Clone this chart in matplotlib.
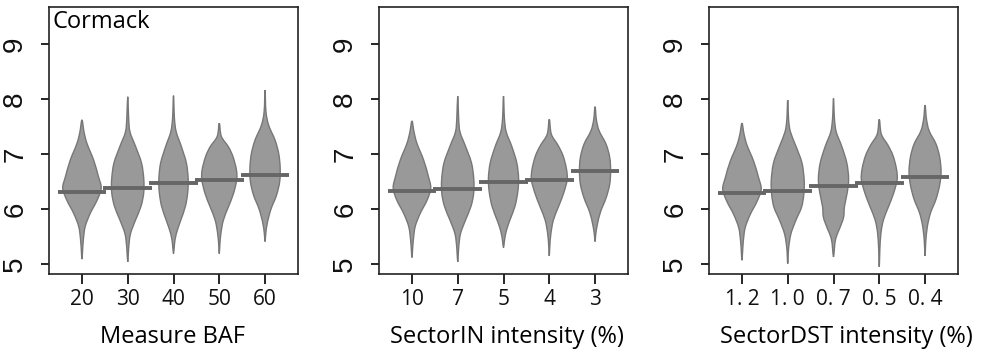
import matplotlib
matplotlib.use("Agg")
import matplotlib.pyplot as plt
from matplotlib.path import Path
from matplotlib.patches import PathPatch

# x tick labels for each panel
labels_baf = ["20", "30", "40", "50", "60"]
labels_in = ["10", "7", "5", "4", "3"]
labels_dst = ["1. 2", "1. 0", "0. 7", "0. 5", "0. 4"]

# mean of each bean
means_baf = [6.31, 6.38, 6.47, 6.53, 6.62]
means_in = [6.32, 6.36, 6.49, 6.53, 6.69]
means_dst = [6.30, 6.32, 6.42, 6.47, 6.58]

# density outlines: y levels and half widths
y_baf = [
    [7.62, 7.40, 7.19, 6.89, 6.59, 6.38, 6.16, 5.92, 5.68, 5.44, 5.22, 5.09],
    [8.04, 7.65, 7.40, 7.14, 6.84, 6.55, 6.30, 6.05, 5.80, 5.55, 5.29, 5.04],
    [8.06, 7.65, 7.40, 7.14, 6.84, 6.55, 6.30, 6.05, 5.80, 5.55, 5.35, 5.19],
    [7.56, 7.32, 7.13, 6.95, 6.71, 6.53, 6.28, 6.04, 5.80, 5.56, 5.35, 5.19],
    [8.16, 7.77, 7.52, 7.25, 7.00, 6.75, 6.50, 6.25, 6.00, 5.75, 5.55, 5.41],
]
w_baf = [
    [0, 0.045, 0.11, 0.255, 0.36, 0.42, 0.33, 0.18, 0.07, 0.03, 0.012, 0],
    [0, 0.02, 0.05, 0.17, 0.30, 0.35, 0.35, 0.29, 0.17, 0.06, 0.02, 0],
    [0, 0.02, 0.06, 0.17, 0.28, 0.32, 0.31, 0.26, 0.16, 0.06, 0.02, 0],
    [0, 0.045, 0.20, 0.30, 0.375, 0.38, 0.31, 0.20, 0.09, 0.036, 0.012, 0],
    [0, 0.02, 0.08, 0.22, 0.30, 0.33, 0.32, 0.25, 0.13, 0.05, 0.015, 0],
]
y_in = [
    [7.60, 7.40, 7.19, 6.89, 6.59, 6.38, 6.16, 5.92, 5.68, 5.44, 5.24, 5.12],
    [8.05, 7.65, 7.40, 7.14, 6.84, 6.55, 6.30, 6.05, 5.80, 5.55, 5.29, 5.04],
    [8.05, 7.65, 7.40, 7.14, 6.84, 6.55, 6.30, 6.05, 5.80, 5.60, 5.42, 5.30],
    [7.63, 7.36, 7.16, 6.97, 6.73, 6.53, 6.28, 6.04, 5.80, 5.56, 5.33, 5.15],
    [7.86, 7.62, 7.42, 7.18, 6.94, 6.70, 6.45, 6.20, 5.95, 5.72, 5.54, 5.41],
]
w_in = [
    [0, 0.045, 0.11, 0.255, 0.36, 0.41, 0.33, 0.18, 0.07, 0.03, 0.012, 0],
    [0, 0.02, 0.05, 0.17, 0.30, 0.35, 0.35, 0.29, 0.17, 0.06, 0.02, 0],
    [0, 0.02, 0.06, 0.18, 0.29, 0.33, 0.31, 0.25, 0.14, 0.06, 0.02, 0],
    [0, 0.045, 0.19, 0.30, 0.375, 0.39, 0.31, 0.20, 0.09, 0.036, 0.012, 0],
    [0, 0.03, 0.09, 0.24, 0.32, 0.34, 0.32, 0.24, 0.12, 0.05, 0.015, 0],
]
y_dst = [
    [7.56, 7.36, 7.16, 6.87, 6.58, 6.36, 6.14, 5.90, 5.66, 5.42, 5.20, 5.07],
    [7.98, 7.62, 7.40, 7.14, 6.84, 6.52, 6.26, 6.03, 5.80, 5.55, 5.29, 5.01],
    [8.01, 7.65, 7.40, 7.14, 6.84, 6.55, 6.30, 6.05, 5.85, 5.66, 5.47, 5.28, 5.13],
    [7.63, 7.36, 7.16, 6.97, 6.73, 6.53, 6.28, 6.04, 5.80, 5.56, 5.25, 4.95],
    [7.89, 7.64, 7.42, 7.18, 6.94, 6.68, 6.44, 6.18, 5.93, 5.68, 5.40, 5.15],
]
w_dst = [
    [0, 0.045, 0.11, 0.255, 0.36, 0.42, 0.33, 0.18, 0.07, 0.03, 0.012, 0],
    [0, 0.02, 0.06, 0.18, 0.31, 0.36, 0.35, 0.30, 0.18, 0.07, 0.02, 0],
    [0, 0.02, 0.06, 0.18, 0.29, 0.33, 0.30, 0.24, 0.22, 0.14, 0.05, 0.02, 0],
    [0, 0.045, 0.19, 0.30, 0.375, 0.39, 0.31, 0.20, 0.09, 0.036, 0.012, 0],
    [0, 0.03, 0.09, 0.24, 0.32, 0.35, 0.32, 0.24, 0.12, 0.05, 0.015, 0],
]

panels = [
    ("Measure BAF", labels_baf, means_baf, y_baf, w_baf, 0.049, 173),
    ("SectorIN intensity (%)", labels_in, means_in, y_in, w_in, 0.379, 507),
    ("SectorDST intensity (%)", labels_dst, means_dst, y_dst, w_dst, 0.709, 846),
]


def smooth_path(pts):
    # closed outline drawn with bezier curves through the read points
    n = len(pts)
    verts = [pts[0]]
    codes = [Path.MOVETO]
    for k in range(n):
        p0 = pts[(k - 1) % n]
        p1 = pts[k]
        p2 = pts[(k + 1) % n]
        p3 = pts[(k + 2) % n]
        c1 = (p1[0] + (p2[0] - p0[0]) / 6, p1[1] + (p2[1] - p0[1]) / 6)
        c2 = (p2[0] - (p3[0] - p1[0]) / 6, p2[1] - (p3[1] - p1[1]) / 6)
        verts += [c1, c2, p2]
        codes += [Path.CURVE4] * 3
    return Path(verts, codes)


def bean(ax, pos, ys, ws):
    right = [(pos + w, y) for y, w in zip(ys, ws)]
    left = [(pos - w, y) for y, w in zip(ys[::-1], ws[::-1])]
    pts = right + left[1:-1]
    ax.add_patch(PathPatch(smooth_path(pts), facecolor="#999999",
                           edgecolor="#777777", linewidth=1.0))


fig = plt.figure(figsize=(10, 3.58), dpi=100)

for title, labs, means, ys, ws, left, xl in panels:
    ax = fig.add_axes([left, 0.2346, 0.249, 0.7458])
    for i in range(len(labs)):
        pos = i + 1
        bean(ax, pos, ys[i], ws[i])
        ax.plot([pos - 0.53, pos + 0.53], [means[i], means[i]], color="#666666",
                linewidth=2.8, solid_capstyle="butt")
    ax.set_xlim(0.28, 5.72)
    ax.set_ylim(4.82, 9.67)
    ax.set_xticks(range(1, 6))
    ax.set_xticklabels(labs, fontsize=15, family="Open Sans", color="#111111")
    ax.set_yticks([5, 6, 7, 8, 9])
    ax.set_yticklabels(["5", "6", "7", "8", "9"], fontsize=20, rotation=90,
                       va="center", family="Liberation Sans", color="#111111")
    ax.tick_params(axis="y", length=6, width=1.2, pad=9)
    ax.tick_params(axis="x", length=7, width=1.2, pad=4)
    for sp in ax.spines.values():
        sp.set_linewidth(1.2)
        sp.set_color("#222222")
    fig.text(xl / 1000, 1 - 337 / 358, title, ha="center", va="center",
             fontsize=17, family="Open Sans", color="#000000")

fig.text(52 / 1000, 1 - 22 / 358, "Cormack", ha="left", va="center",
         fontsize=17, family="Open Sans", color="#000000")

plt.savefig("out.png", dpi=100)
